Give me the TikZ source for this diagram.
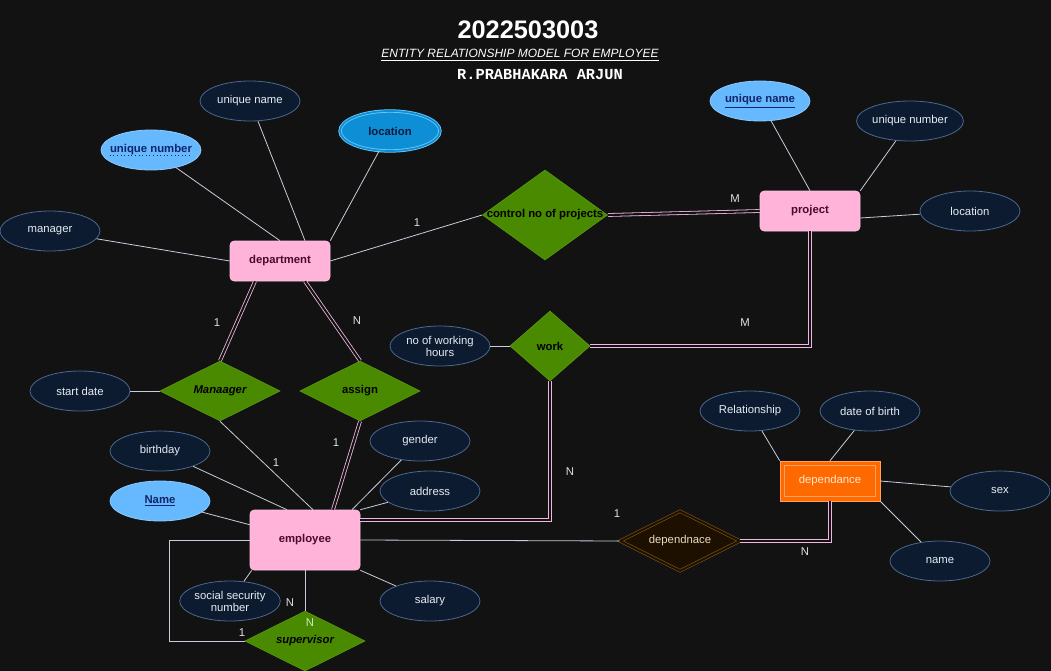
\documentclass[tikz,border=0pt]{standalone}
\usepackage{fontspec}
\setmainfont{Liberation Sans}
\newfontfamily\namefont{Liberation Mono}
\usetikzlibrary{shapes.geometric,calc}
\definecolor{bgc}{HTML}{121212}
\definecolor{attrfill}{HTML}{0C1B30}
\definecolor{attrline}{HTML}{4A6890}
\definecolor{attrtext}{HTML}{E6ECF2}
\definecolor{keyfill}{HTML}{66B8FF}
\definecolor{keyline}{HTML}{8CCBFF}
\definecolor{keytext}{HTML}{10246A}
\definecolor{locfill}{HTML}{0E8ED4}
\definecolor{locline}{HTML}{6CCBFF}
\definecolor{loctext}{HTML}{0A1A3A}
\definecolor{entfill}{HTML}{FFB3D9}
\definecolor{entline}{HTML}{FFC6E3}
\definecolor{enttext}{HTML}{4A0A2A}
\definecolor{relfill}{HTML}{4A8A00}
\definecolor{relline}{HTML}{5A9A10}
\definecolor{dblline}{HTML}{F0B8E0}
\definecolor{connline}{HTML}{C4CEDC}
\definecolor{cardtext}{HTML}{E0E0E0}
\definecolor{depfill}{HTML}{FF6A00}
\definecolor{depinner}{HTML}{FFA060}
\definecolor{deptext}{HTML}{FFE6CC}
\definecolor{wkfill}{HTML}{1E1000}
\definecolor{wkline}{HTML}{7A5212}
\definecolor{wktext}{HTML}{EADCC0}
\definecolor{supn}{HTML}{C8ECC8}
\tikzset{
  fnt/.style={font=\fontsize{8.5}{10}\selectfont},
  attr/.style={ellipse, draw=attrline, fill=attrfill, minimum width=75pt, minimum height=30pt,
    inner sep=0pt, text=attrtext, fnt, line width=0.6pt, align=center},
  keyattr/.style={attr, fill=keyfill, draw=keyline, text=keytext, font=\fontsize{8.5}{10}\selectfont\bfseries},
  locattr/.style={attr, fill=locfill, draw=locline, double=locfill, double distance=1.3pt,
    text=loctext, font=\fontsize{8.5}{10}\selectfont\bfseries},
  entity/.style={rectangle, rounded corners=3pt, fill=entfill, draw=entline, minimum width=75pt,
    minimum height=30pt, text=enttext, font=\fontsize{8.5}{10}\selectfont\bfseries},
  rel/.style={diamond, fill=relfill, draw=relline, inner sep=0pt, line width=0.5pt},
  reltext/.style={text=black, font=\fontsize{8.5}{10}\selectfont\bfseries, inner sep=0pt},
  weakrel/.style={rel, fill=wkfill, draw=wkline, double=wkfill, double distance=1.5pt},
  conn/.style={draw=connline, line width=0.6pt},
  dbl/.style={draw=dblline, double=bgc, double distance=1.6pt, line width=0.6pt},
  card/.style={text=cardtext, fnt, inner sep=1pt},
}
\begin{document}
\begin{tikzpicture}[x=0.75pt,y=-0.75pt]
\fill[bgc] (0,0) rectangle (1051,671);
\useasboundingbox (0,0) rectangle (1051,671);

% titles
\node[text=white, font=\fontsize{19}{22}\selectfont\bfseries] (title) at (528,30) {2022503003};
\node[text=white, font=\fontsize{9}{11}\selectfont\itshape] (subtitle) at (520,55) {\underline{ENTITY RELATIONSHIP MODEL FOR EMPLOYEE}};
\node[text=white, font=\namefont\fontsize{11.5}{13}\selectfont\bfseries] (author) at (540,75) {R.PRABHAKARA ARJUN};

% entities
\node[entity] (dept) at (280,261) {department};
\node[entity] (proj) at (810,211) {project};
\node[entity, minimum width=82.5pt, minimum height=45pt] (emp) at (305,540) {employee};
\node[rectangle, fill=depfill, draw=depinner, minimum width=75pt, minimum height=30pt,
      text=deptext, fnt] (dep) at (830,481) {dependance};
\draw[depinner, line width=0.5pt] ($(dep.north west)+(5,5)$) coordinate (depa) rectangle ($(dep.south east)+(-5,-5)$) coordinate (depb);

% relationships
\node[rel, minimum width=93.75pt, minimum height=67.5pt, label={[reltext]center:control no of projects}] (ctrl) at (545,215) {};
\node[rel, minimum width=90pt, minimum height=45pt, label={[reltext, font=\fontsize{8.5}{10}\selectfont\bfseries\itshape]center:Manaager}] (man) at (220,391) {};
\node[rel, minimum width=90pt, minimum height=45pt, label={[reltext]center:assign}] (asg) at (360,391) {};
\node[rel, minimum width=60pt, minimum height=52.5pt, label={[reltext]center:work}] (work) at (550,346) {};
\node[rel, minimum width=90pt, minimum height=45pt, label={[reltext, font=\fontsize{8.5}{10}\selectfont\bfseries\itshape]center:supervisor}] (sup) at (305,641) {};
\node[weakrel, minimum width=90pt, minimum height=45pt, label={[text=wktext, fnt]center:dependnace}] (dpr) at (680,541) {};

% attributes of department
\node[attr] (dun) at (250,101) {unique name};
\node[keyattr] (dnum) at (151,150) {};
\node[text=keytext, font=\fontsize{8.5}{10}\selectfont\bfseries, inner sep=0pt] (dnumt) at (151,150) {unique number};
\draw[keytext, dotted, line width=0.7pt] ($(dnumt.base west)+(0,3)$) -- ($(dnumt.base east)+(0,3)$);
\node[locattr] (dloc) at (390,131) {location};
\node[attr] (dman) at (50,231) {manager};

% attributes of project
\node[keyattr] (pun) at (760,101) {\underline{unique name}};
\node[attr] (pnum) at (910,121) {unique number};
\node[attr] (ploc) at (970,211) {location};

% other attributes
\node[attr] (sdate) at (80,391) {start date};
\node[attr] (hours) at (440,346) {no of working\\[-1pt]hours};
\node[attr] (bday) at (160,451) {birthday};
\node[keyattr] (ename) at (160,501) {\underline{Name}};
\node[attr] (gender) at (420,441) {gender};
\node[attr] (addr) at (430,491) {address};
\node[attr] (ssn) at (230,601) {social security\\[-1pt]number};
\node[attr] (salary) at (430,601) {salary};
\node[attr] (drel) at (750,411) {Relationship};
\node[attr] (ddob) at (870,411) {date of birth};
\node[attr] (dsex) at (1000,491) {sex};
\node[attr] (dname) at (940,561) {name};

% department connectors
\draw[conn] (dnum) -- (dept.north);
\draw[conn] (dun) -- ($(dept.north)+(25,0)$);
\draw[conn] (dloc) -- (dept.north east);
\draw[conn] (dman) -- (dept.west);
\draw[conn] (dept.east) -- (ctrl.west);
\draw[dbl] (ctrl.east) -- (proj.west);

% project connectors
\draw[conn] (pun) -- (proj.north);
\draw[conn] (pnum) -- (proj.north east);
\draw[conn] (ploc) -- ($(proj.east)+(0,7)$);
\draw[dbl] (proj.south) |- (work.east);
\draw[conn] (hours) -- (work.west);

% department - employee
\draw[dbl] ($(dept.south)+(-25,0)$) -- (man.north);
\draw[dbl] ($(dept.south)+(25,0)$) -- (asg.north);
\draw[conn] (sdate) -- (man.west);
\draw[conn] (man.south) -- ($(emp.north)+(8,0)$);
\draw[dbl] (asg.south) -- ($(emp.north)+(28,0)$);
\draw[dbl] (work.south) |- ($(emp.north east)+(0,10)$);

% employee attributes
\draw[conn] (bday) -- ($(emp.north)+(-18,0)$);
\draw[conn] (ename) -- ($(emp.north west)+(0,15)$);
\draw[conn] (gender) -- ($(emp.north)+(47,0)$);
\draw[conn] (addr) -- (emp.north east);
\draw[conn] (ssn) -- ($(emp.south west)+(2,0)$);
\draw[conn] (salary) -- (emp.south east);

% supervisor
\draw[conn] (emp.south) -- (sup.north);
\draw[conn] (emp.west) -- ++(-80,0) |- (sup.west);

% dependants
\draw[conn] (emp.east) -- (dpr.west);
\draw[dbl] (dpr.east) -| (dep.south);
\draw[conn] (drel) -- (dep.north west);
\draw[conn] (ddob) -- (dep.north);
\draw[conn] (dsex) -- (dep.east);
\draw[conn] (dname) -- (dep.south east);

% cardinalities
\node[card] (c1) at (417,223) {1};
\node[card] (c2) at (735,199) {M};
\node[card] (c3) at (745,323) {M};
\node[card] (c4) at (217,323) {1};
\node[card] (c5) at (357,321) {N};
\node[card] (c6) at (276,463) {1};
\node[card] (c7) at (336,443) {1};
\node[card] (c8) at (570,472) {N};
\node[card] (c9) at (617,514) {1};
\node[card] (c10) at (805,552) {N};
\node[card] (c11) at (290,603) {N};
\node[card, text=supn] (c12) at (310,623) {N};
\node[card] (c13) at (242,633) {1};
\end{tikzpicture}
\end{document}
